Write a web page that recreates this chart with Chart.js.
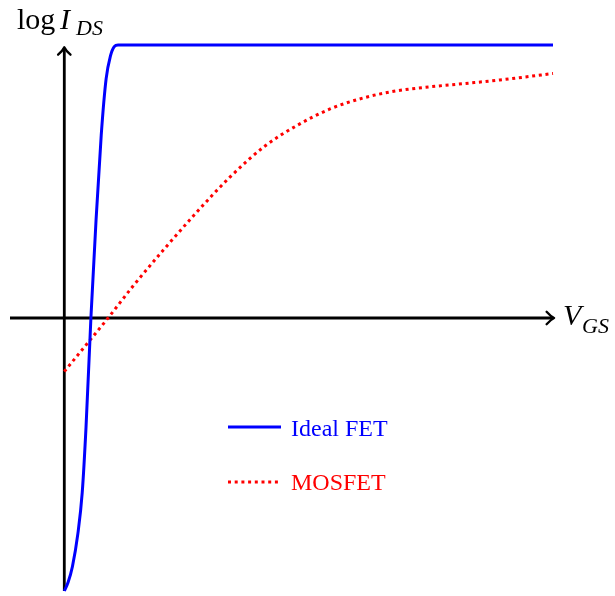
<!DOCTYPE html>
<html>
<head>
<meta charset="utf-8">
<script src="https://cdn.jsdelivr.net/npm/chart.js@4/dist/chart.umd.min.js"></script>
<style>
  html, body { margin: 0; padding: 0; background: #ffffff; }
  #wrap { width: 615px; height: 596px; }
</style>
</head>
<body>
<div id="wrap"><canvas id="c" width="615" height="596"></canvas></div>
<script>
// Gate voltage (arbitrary units) and log drain current for each device
const idealVgs = [0, 0.07, 0.15, 0.25, 0.33, 0.40, 0.49, 0.585, 0.68, 0.77, 0.85, 0.92, 0.99, 9];
const idealLogIds = [-5, -4.84, -4.55, -3.95, -3.2, -2.0, 0, 1.8, 3.35, 4.38, 4.8, 4.97, 5, 5];

const mosfetVgs = [0, 0.486, 0.81, 1.27, 1.855, 2.44, 3.05, 3.696, 4.285, 4.893, 5.501, 6.109, 6.735, 7.38, 8.023, 9.0];
const mosfetLogIds = [-0.98, -0.39, 0.005, 0.59, 1.28, 1.94, 2.58, 3.15, 3.526, 3.828, 4.029, 4.158, 4.234, 4.295, 4.359, 4.478];

const seriesNames = ['Ideal FET', 'MOSFET'];
const seriesColors = ['#0000ff', '#ff0000'];

// Axis extents
const vgsRange = [-1, 9];
const logIdsRange = [-5, 5];
const xAxisTip = 9.02;
const yAxisTip = 4.96;

const toPoints = (xs, ys) => xs.map((x, i) => ({ x: x, y: ys[i] }));

const SERIF = '"Liberation Serif", "DejaVu Serif", serif';

// Draws a TeX-style "to" arrow head with its tip at (x, y) pointing along angle
function arrowHead(ctx, x, y, angle) {
  const L = 7.5, W = 6.2;
  ctx.save();
  ctx.translate(x, y);
  ctx.rotate(angle);
  ctx.beginPath();
  ctx.moveTo(-L, -W);
  ctx.quadraticCurveTo(-L * 0.45, -W * 0.25, 0, 0);
  ctx.quadraticCurveTo(-L * 0.45, W * 0.25, -L, W);
  ctx.lineWidth = 2.3;
  ctx.lineCap = 'round';
  ctx.lineJoin = 'round';
  ctx.strokeStyle = '#000';
  ctx.stroke();
  ctx.restore();
}

const axesPlugin = {
  id: 'axesWithArrows',
  beforeDatasetsDraw(chart) {
    const { ctx, scales: { x, y } } = chart;
    const x0 = x.getPixelForValue(0), y0 = y.getPixelForValue(0);
    const xl = x.getPixelForValue(vgsRange[0]), xr = x.getPixelForValue(xAxisTip);
    const yb = y.getPixelForValue(logIdsRange[0]), yt = y.getPixelForValue(yAxisTip);
    ctx.save();
    ctx.strokeStyle = '#000';
    ctx.lineWidth = 2.8;
    ctx.lineCap = 'butt';
    ctx.beginPath();
    ctx.moveTo(xl, y0);
    ctx.lineTo(xr - 1, y0);
    ctx.moveTo(x0, yb);
    ctx.lineTo(x0, yt + 1);
    ctx.stroke();
    ctx.restore();
    arrowHead(ctx, xr, y0, 0);
    arrowHead(ctx, x0, yt, -Math.PI / 2);

    // axis titles
    ctx.save();
    ctx.fillStyle = '#000';
    ctx.textBaseline = 'alphabetic';
    ctx.textAlign = 'left';
    ctx.font = '30px ' + SERIF;
    ctx.fillText('log', 17, 29);
    ctx.font = 'italic 30px ' + SERIF;
    ctx.fillText('I', 60, 29);
    ctx.font = 'italic 22px ' + SERIF;
    ctx.fillText('DS', 76, 35);
    ctx.font = 'italic 30px ' + SERIF;
    ctx.fillText('V', 563, 325);
    ctx.font = 'italic 22px ' + SERIF;
    ctx.fillText('GS', 582, 333);
    ctx.restore();
  }
};

const legendPlugin = {
  id: 'insetLegend',
  afterDatasetsDraw(chart) {
    const { ctx } = chart;
    const rows = [{ y: 427, base: 436 }, { y: 482, base: 490 }];
    chart.data.datasets.forEach((ds, i) => {
      const r = rows[i];
      ctx.save();
      ctx.strokeStyle = ds.borderColor;
      ctx.lineWidth = ds.borderWidth;
      ctx.setLineDash(ds.borderDash || []);
      ctx.lineCap = 'butt';
      ctx.beginPath();
      ctx.moveTo(228, r.y);
      ctx.lineTo(281, r.y);
      ctx.stroke();
      ctx.setLineDash([]);
      ctx.fillStyle = ds.borderColor;
      ctx.font = '24px ' + SERIF;
      ctx.textBaseline = 'alphabetic';
      ctx.fillText(ds.label, 291, r.base);
      ctx.restore();
    });
  }
};

new Chart(document.getElementById('c'), {
  type: 'scatter',
  data: {
    datasets: [
      {
        label: seriesNames[0],
        data: toPoints(idealVgs, idealLogIds),
        showLine: true,
        borderColor: seriesColors[0],
        borderWidth: 3,
        pointRadius: 0,
        cubicInterpolationMode: 'monotone',
        clip: false
      },
      {
        label: seriesNames[1],
        data: toPoints(mosfetVgs, mosfetLogIds),
        showLine: true,
        borderColor: seriesColors[1],
        borderWidth: 3,
        borderDash: [3, 3.7],
        borderCapStyle: 'butt',
        pointRadius: 0,
        cubicInterpolationMode: 'monotone',
        clip: false
      }
    ]
  },
  options: {
    responsive: false,
    animation: false,
    devicePixelRatio: 1,
    layout: { padding: { left: 10, right: 62, top: 45, bottom: 5 } },
    scales: {
      x: { type: 'linear', min: vgsRange[0], max: vgsRange[1], display: false },
      y: { type: 'linear', min: logIdsRange[0], max: logIdsRange[1], display: false }
    },
    plugins: {
      legend: { display: false },
      tooltip: { enabled: false },
      title: { display: false }
    }
  },
  plugins: [axesPlugin, legendPlugin]
});
</script>
</body>
</html>
